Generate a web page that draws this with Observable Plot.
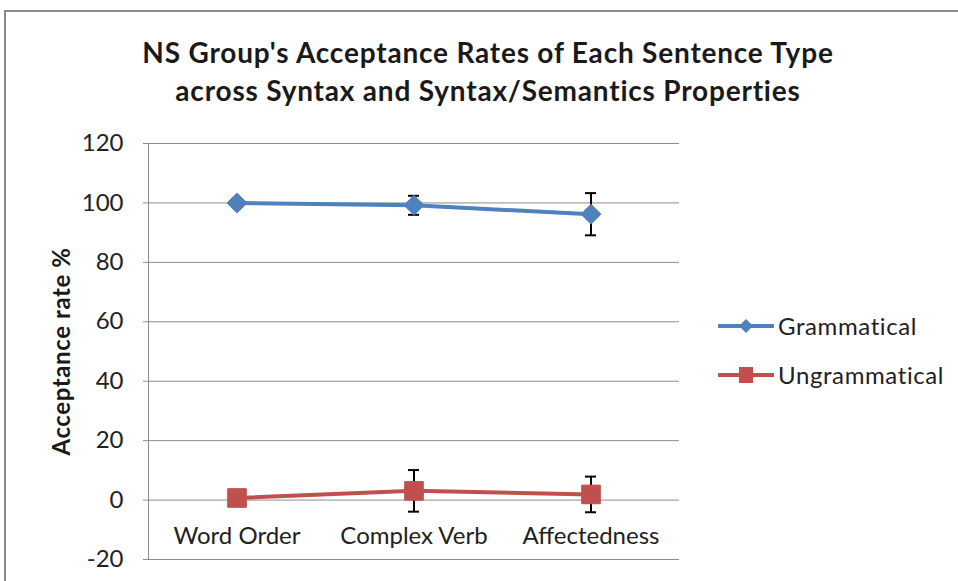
<!DOCTYPE html>
<html>
<head>
<meta charset="utf-8">
<script src="https://cdn.jsdelivr.net/npm/d3@7"></script>
<script src="https://cdn.jsdelivr.net/npm/@observablehq/plot@0.6"></script>
<style>
  html, body { margin: 0; padding: 0; background: #fff; overflow: hidden; }
  #wrap { position: relative; width: 958px; height: 581px; overflow: hidden; font-family: Lato, "Open Sans", sans-serif; color: #222; }
  #border { position: absolute; left: 4px; top: 10px; width: 1200px; height: 1200px; border: 2px solid #8a8a8a; box-sizing: border-box; }
  #title { position: absolute; left: 0; top: 33px; width: 976px; text-align: center; font-weight: bold; font-size: 28px; letter-spacing: 0.8px; line-height: 38px; color: #1a1a1a; }
  #chart { position: absolute; left: 0; top: 0; }
  #legend { position: absolute; left: 718px; top: 301px; font-size: 24px; letter-spacing: 0.6px; color: #222; }
  .item { position: relative; height: 49px; display: flex; align-items: center; }
  .item svg { margin-right: 4px; }
</style>
</head>
<body>
<div id="wrap">
  <div id="border"></div>
  <div id="chart"></div>
  <div id="title">NS Group's Acceptance Rates of Each Sentence Type<br>across Syntax and Syntax/Semantics Properties</div>
  <div id="legend"></div>
</div>
<script>
const categories = ["Word Order", "Complex Verb", "Affectedness"];
const grammatical = [100, 99.2, 96.2];
const grammaticalErr = [0, 3.2, 7.1];
const ungrammatical = [0.7, 3.1, 1.9];
const ungrammaticalErr = [0, 7, 6];
const yTicks = [-20, 0, 20, 40, 60, 80, 100, 120];
const seriesNames = ["Grammatical", "Ungrammatical"];
const colors = ["#4F81BD", "#C0504D"];

const rows = (vals, errs, s) => categories.map((c, i) => ({cat: c, v: vals[i], lo: vals[i] - errs[i], hi: vals[i] + errs[i], err: errs[i], s}));
const g = rows(grammatical, grammaticalErr, seriesNames[0]);
const u = rows(ungrammatical, ungrammaticalErr, seriesNames[1]);
const all = g.concat(u).filter(d => d.err > 0);

const W = 958, H = 581, mL = 148, mR = 279;
const band = (W - mL - mR) / categories.length;
const capInset = (band - 11) / 2;

const plot = Plot.plot({
  width: W, height: H,
  marginLeft: mL, marginRight: mR, marginTop: 143, marginBottom: 22,
  style: {fontFamily: "Lato, 'Open Sans', sans-serif", fontSize: "24px", color: "#222", background: "transparent"},
  x: {type: "band", domain: categories, padding: 0, axis: null},
  y: {domain: [-20, 120], ticks: yTicks, axis: null},
  marks: [
    Plot.gridY(yTicks, {stroke: "#8c8c8c", strokeOpacity: 1, strokeWidth: 1}),
    Plot.ruleX([categories[0]], {dx: -band / 2, y1: -20, y2: 120, stroke: "#8c8c8c", strokeWidth: 1}),
    Plot.axisY({ticks: yTicks, tickSize: 5, tickPadding: 20, tickFormat: d => String(d), stroke: "#8c8c8c", fontSize: 24, fill: "#222", label: null}),
    Plot.text(categories, {x: d => d, y: () => 0, dy: 36, fontSize: 24, fill: "#222"}),
    Plot.line(g, {x: "cat", y: "v", stroke: colors[0], strokeWidth: 4}),
    Plot.line(u, {x: "cat", y: "v", stroke: colors[1], strokeWidth: 4}),
    Plot.ruleX(all, {x: "cat", y1: "lo", y2: "hi", stroke: "#000", strokeWidth: 2}),
    Plot.tickY(all, {x: "cat", y: "lo", insetLeft: capInset, insetRight: capInset, stroke: "#000", strokeWidth: 2}),
    Plot.tickY(all, {x: "cat", y: "hi", insetLeft: capInset, insetRight: capInset, stroke: "#000", strokeWidth: 2}),
    Plot.dot(g, {x: "cat", y: "v", symbol: "diamond2", r: 9, fill: colors[0], stroke: colors[0], strokeWidth: 1}),
    Plot.dot(u, {x: "cat", y: "v", symbol: "square", r: 10.5, fill: colors[1], stroke: colors[1], strokeWidth: 1}),
    Plot.text(["Acceptance rate %"], {frameAnchor: "left", rotate: -90, textAnchor: "middle", dx: -86, fontWeight: "bold", fontSize: 24, fill: "#1a1a1a"})
  ]
});
plot.querySelectorAll("text").forEach(t => {
  if (t.textContent === "Acceptance rate %") t.setAttribute("letter-spacing", "0.6");
});
document.getElementById("chart").appendChild(plot);

// Legend
const legend = document.getElementById("legend");
seriesNames.forEach((name, i) => {
  const item = document.createElement("div");
  item.className = "item";
  const sw = i === 0
    ? `<svg width="56" height="20"><line x1="1" y1="10" x2="55" y2="10" stroke="${colors[0]}" stroke-width="4" stroke-linecap="round"/><path d="M28 3 L35 10 L28 17 L21 10 Z" fill="${colors[0]}"/></svg>`
    : `<svg width="56" height="20"><line x1="1" y1="10" x2="55" y2="10" stroke="${colors[1]}" stroke-width="4" stroke-linecap="round"/><rect x="21" y="2" width="14" height="16" fill="${colors[1]}"/></svg>`;
  item.innerHTML = sw + `<span>${name}</span>`;
  legend.appendChild(item);
});
</script>
</body>
</html>
